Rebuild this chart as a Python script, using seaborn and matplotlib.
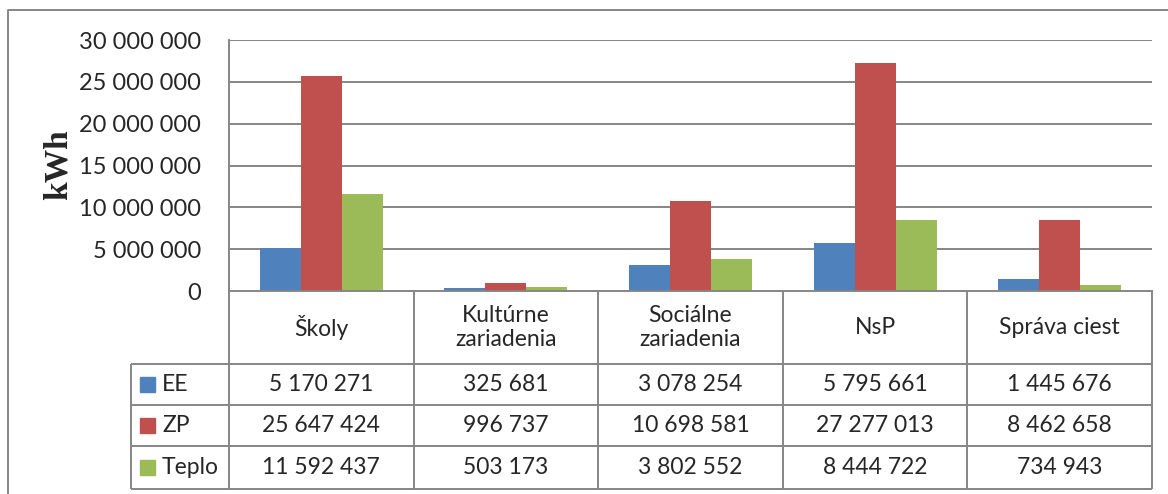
import matplotlib
matplotlib.use("Agg")
import matplotlib.pyplot as plt
from matplotlib.lines import Line2D
from matplotlib.patches import Rectangle
import seaborn as sns
import pandas as pd

# data
categories = ["Školy", "Kultúrne\nzariadenia", "Sociálne\nzariadenia", "NsP", "Správa ciest"]
series = ["EE", "ZP", "Teplo"]
ee = [5170271, 325681, 3078254, 5795661, 1445676]
zp = [25647424, 996737, 10698581, 27277013, 8462658]
teplo = [11592437, 503173, 3802552, 8444722, 734943]
colors = ["#4F81BD", "#C0504D", "#9BBB59"]
yticks = [0, 5000000, 10000000, 15000000, 20000000, 25000000, 30000000]

values = {"EE": ee, "ZP": zp, "Teplo": teplo}
df = pd.DataFrame([(c, s, values[s][i]) for s in series for i, c in enumerate(categories)],
                  columns=["kat", "typ", "kwh"])


def fmt(v):
    return f"{int(v):,}".replace(",", " ")


W, H = 1168, 494
GRID = "#868686"
FONT = "Lato"
FS = 16.5

sns.set_style("white")
plt.rcParams["font.family"] = [FONT, "DejaVu Sans"]

fig = plt.figure(figsize=(W / 100, H / 100), dpi=100)

# pixel layout
px_left, px_right, px_top, px_bottom = 229, 1152, 40, 291
ax = fig.add_axes([px_left / W, (H - px_bottom) / H, (px_right - px_left) / W, (px_bottom - px_top) / H])

sns.barplot(data=df, x="kat", y="kwh", hue="typ", palette=colors, saturation=1,
            width=0.667, gap=0, linewidth=0, ax=ax, legend=False)
ax.set_xlim(-0.5, len(categories) - 0.5)
ax.set_ylim(0, 30000000)
ax.set_yticks(yticks)
ax.set_yticklabels([fmt(t) for t in yticks], fontsize=17)
ax.tick_params(axis="y", length=0, pad=20)
ax.set_xticks([])
ax.set_xlabel("")
ax.set_ylabel("")
for t in yticks[1:]:
    ax.axhline(t, color=GRID, lw=1.4, zorder=0)
for side in ["top", "right"]:
    ax.spines[side].set_visible(False)
for side in ["left", "bottom"]:
    ax.spines[side].set_color(GRID)
    ax.spines[side].set_linewidth(1.4)

fig.text(58 / W, 1 - 165 / H, "kWh", rotation=90, ha="center", va="center",
         fontsize=24, fontweight="bold", family="Liberation Serif")

# data table below the plot
col_w = (px_right - px_left) / len(categories)
tab_left, tab_bottom = 131, 489
x0 = -0.5 - (px_left - tab_left) / col_w
tax = fig.add_axes([tab_left / W, (H - tab_bottom) / H, (px_right - tab_left) / W, (tab_bottom - px_bottom) / H])
tax.set_xlim(x0, len(categories) - 0.5)
tax.set_ylim(tab_bottom - px_bottom, 0)
tax.axis("off")

rows_y = [0, 73, 114, 155, 198]
lk = dict(color=GRID, lw=1.4, clip_on=False)
tax.hlines(rows_y[1:], x0, len(categories) - 0.5, **lk)
tax.vlines([x0], rows_y[1], rows_y[-1], **lk)
tax.vlines([i - 0.5 for i in range(len(categories) + 1)], 0, rows_y[-1], **lk)

for i, c in enumerate(categories):
    tax.text(i, rows_y[1] / 2, c, ha="center", va="center", fontsize=FS, linespacing=1.2)

for r, s in enumerate(series):
    yc = (rows_y[r + 1] + rows_y[r + 2]) / 2
    tax.add_patch(Rectangle((x0 + 9 / col_w, yc - 7.5), 15 / col_w, 15, color=colors[r], clip_on=False))
    tax.text(x0 + 31 / col_w, yc, s, ha="left", va="center", fontsize=FS)
    for i, v in enumerate(values[s]):
        tax.text(i, yc, fmt(v), ha="center", va="center", fontsize=FS)

# outer chart frame (only top and left visible)
fig.add_artist(Line2D([8 / W, 8 / W, 1], [0, 1 - 10 / H, 1 - 10 / H], color=GRID, lw=1.4,
                      transform=fig.transFigure))

fig.savefig("out.png", dpi=100, facecolor="white")
